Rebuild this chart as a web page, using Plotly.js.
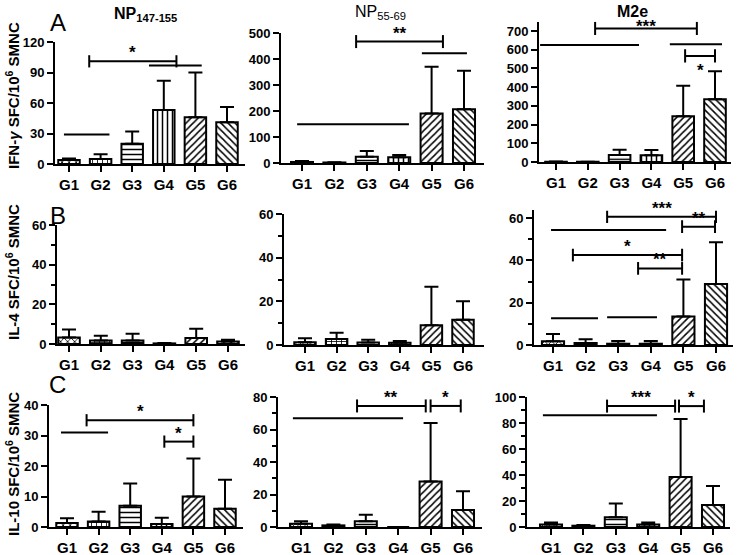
<!DOCTYPE html>
<html><head><meta charset="utf-8">
<script src="https://cdn.plot.ly/plotly-3.0.1.min.js"></script>
<style>html,body{margin:0;padding:0;background:#fff}#chart{width:738px;height:555px}</style>
</head><body><div id="chart"></div>
<script>
// ---------- data ----------
const groups = ['G1', 'G2', 'G3', 'G4', 'G5', 'G6'];
const groupPos = [0, 1, 2, 3, 4, 5];

// IFN-γ SFC / 10^6 SMNC (mean, SD)
const ifnNP147 = [4, 5, 20, 53, 46, 41];
const ifnNP147Sd = [1.5, 4.5, 12, 29, 44, 15];
const ifnNP55 = [4, 2, 24, 22, 190, 207];
const ifnNP55Sd = [4, 1, 22, 9, 180, 148];
const ifnM2e = [2, 1, 38, 36, 245, 335];
const ifnM2eSd = [1, 0.5, 28, 28, 163, 150];

// IL-4
const il4NP147 = [3.3, 1.8, 1.8, 0.3, 3, 1.2];
const il4NP147Sd = [4, 2.4, 3.4, 0.2, 4.7, 0.9];
const il4NP55 = [1.3, 2.8, 1.1, 1, 9, 11.6];
const il4NP55Sd = [1.8, 2.8, 1.3, 0.8, 17.7, 8.4];
const il4M2e = [1.8, 1, 0.6, 0.6, 13.5, 28.8];
const il4M2eSd = [3.4, 1.7, 1.3, 1.3, 17.5, 19.7];

// IL-10
const il10NP147 = [1.3, 1.8, 7, 1, 10, 6];
const il10NP147Sd = [1.6, 3.2, 7.3, 2, 12.5, 9.5];
const il10NP55 = [2, 1, 3.5, 0, 28, 10.5];
const il10NP55Sd = [1.5, 0.5, 4, 0, 36, 11.5];
const il10M2e = [2, 1, 7.5, 2, 38.5, 17];
const il10M2eSd = [1.5, 0.5, 10.5, 1.5, 44.5, 14.5];

// significance marks: [from, to, level, label, label side]; empty label = plain line
const sigIfnNP147 = [[-0.16, 1.28, 29, ''], [2.53, 4.2, 97, ''], [0.64, 3.4, 101, '*', 'above']];
const sigIfnNP55 = [[-0.15, 3.3, 149, ''], [1.67, 4.35, 467, '**', 'above'], [3.7, 5.09, 422, '']];
const sigIfnM2e = [[-0.5, 2.61, 625, ''], [1.23, 4.43, 714, '***', 'close'], [3.58, 5.22, 629, ''], [4.06, 5.0, 567, '*', 'below']];
const sigIl4NP147 = [];
const sigIl4NP55 = [];
const sigIl4M2e = [[-0.06, 3.47, 54.3, ''], [1.66, 5.0, 60.6, '***', 'above'], [3.96, 4.97, 55.9, '**', 'above'],
                   [0.61, 3.96, 42.5, '*', 'above'], [2.61, 3.96, 36.2, '**', 'above'], [-0.06, 1.38, 12.6, ''], [1.66, 3.19, 13.1, '']];
const sigIl10NP147 = [[-0.19, 1.3, 31, ''], [0.62, 4.0, 35, '*', 'above'], [3.08, 4.0, 28, '*', 'above']];
const sigIl10NP55 = [[-0.25, 3.15, 67, ''], [1.73, 3.85, 74.5, '**', 'above'], [4.0, 4.93, 74.5, '*', 'above']];
const sigIl10M2e = [[-0.25, 3.27, 86, ''], [1.73, 3.83, 93, '***', 'above'], [3.95, 4.72, 93, '*', 'above']];

const axisMax = [120, 500, 700, 60, 60, 60, 40, 80, 100];
const axisStep = [30, 100, 100, 20, 20, 20, 10, 20, 20];

// ---------- layout geometry (pixels) ----------
const FONT = 'Arial, "Liberation Sans", Helvetica, sans-serif';
const W = 738, H = 555;
const geo = [
  {L: 55, R: 245, g1: 69, g6: 227, bot: 164, top: 42, minor: null},
  {L: 281, R: 484, g1: 302, g6: 464, bot: 163, top: 33, minor: null},
  {L: 539, R: 731, g1: 556, g6: 715, bot: 162, top: 31, minor: null},
  {L: 57, R: 245, g1: 69, g6: 228, bot: 344, top: 225, minor: 10},
  {L: 284, R: 484, g1: 305, g6: 463, bot: 345, top: 214, minor: 10},
  {L: 534, R: 733, g1: 553, g6: 716, bot: 345, top: 218, minor: 10},
  {L: 49, R: 243, g1: 67, g6: 225, bot: 527, top: 405, minor: null},
  {L: 278, R: 482, g1: 301, g6: 463, bot: 527, top: 397, minor: 10},
  {L: 527, R: 730, g1: 551, g6: 713, bot: 527, top: 397, minor: 10}
];
const series = [
  [ifnNP147, ifnNP147Sd, sigIfnNP147], [ifnNP55, ifnNP55Sd, sigIfnNP55], [ifnM2e, ifnM2eSd, sigIfnM2e],
  [il4NP147, il4NP147Sd, sigIl4NP147], [il4NP55, il4NP55Sd, sigIl4NP55], [il4M2e, il4M2eSd, sigIl4M2e],
  [il10NP147, il10NP147Sd, sigIl10NP147], [il10NP55, il10NP55Sd, sigIl10NP55], [il10M2e, il10M2eSd, sigIl10M2e]
];
const patterns = ['x', '+', '-', '|', '/', '\\'];

const data = [], shapes = [], annotations = [];
const layout = {
  width: W, height: H, margin: {l: 0, r: 0, t: 0, b: 0},
  paper_bgcolor: 'white', plot_bgcolor: 'rgba(0,0,0,0)', showlegend: false,
  font: {family: FONT, color: 'black'}, shapes, annotations
};

series.forEach((s, i) => {
  const [vals, sd, sig] = s;
  const g = geo[i];
  const n = i + 1;
  const xa = 'x' + (n > 1 ? n : ''), ya = 'y' + (n > 1 ? n : '');
  const xk = 'xaxis' + (n > 1 ? n : ''), yk = 'yaxis' + (n > 1 ? n : '');
  const ymax = axisMax[i], step = axisStep[i];
  const pitch = (g.g6 - g.g1) / 5;
  const h = 0.05 * ymax;
  let rtop = ymax;
  sig.forEach(m => { rtop = Math.max(rtop, m[2] + (m[3] ? h : 0)); });
  const scale = (g.bot - g.top) / ymax;
  const domTopPx = g.bot - rtop * scale;
  const tv = [];
  for (let v = 0; v <= ymax + 1e-9; v += step) tv.push(v);

  layout[xk] = {
    domain: [g.L / W, g.R / W], range: [(g.L - g.g1) / pitch, 5 + (g.R - g.g6) / pitch],
    anchor: ya, tickmode: 'array', tickvals: groupPos, ticktext: groups,
    ticks: 'outside', ticklen: 6, tickwidth: 2, tickcolor: 'black',
    showline: true, linewidth: 2, linecolor: 'black', showgrid: false, zeroline: false,
    tickfont: {size: 15, family: FONT, weight: 'bold', color: 'black'}, fixedrange: true
  };
  const yax = {
    domain: [1 - g.bot / H, 1 - domTopPx / H], range: [0, rtop], anchor: xa,
    tickmode: 'array', tickvals: tv, ticks: 'outside', ticklen: 6, tickwidth: 2, tickcolor: 'black',
    showline: true, linewidth: 2, linecolor: 'black', showgrid: false, zeroline: false,
    tickfont: {size: 13, family: FONT, weight: 'bold', color: 'black'}, fixedrange: true
  };
  if (g.minor) yax.minor = {dtick: g.minor, tick0: 0, ticks: 'outside', ticklen: 4, tickwidth: 2, tickcolor: 'black', showgrid: false};
  layout[yk] = yax;

  data.push({
    type: 'bar', x: groupPos, y: vals, xaxis: xa, yaxis: ya, width: 0.68, cliponaxis: false,
    marker: {color: 'white', line: {color: 'black', width: 2},
      pattern: {shape: patterns, size: 5, solidity: 0.3, fgcolor: 'black', bgcolor: 'white'}},
    error_y: {type: 'data', symmetric: false, array: sd, arrayminus: sd.map(() => 0),
      color: 'black', thickness: 2, width: 7},
    hoverinfo: 'skip'
  });

  sig.forEach(m => {
    const [x0, x1, y, label, side] = m;
    const ln = {color: 'black', width: 2};
    shapes.push({type: 'line', xref: xa, yref: ya, x0, x1, y0: y, y1: y, line: ln});
    if (label) {
      shapes.push({type: 'line', xref: xa, yref: ya, x0: x0, x1: x0, y0: y - h, y1: y + h, line: ln});
      shapes.push({type: 'line', xref: xa, yref: ya, x0: x1, x1: x1, y0: y - h, y1: y + h, line: ln});
      annotations.push({xref: xa, yref: ya, x: (x0 + x1) / 2, y: y, text: label, showarrow: false,
        yanchor: side === 'below' ? 'top' : 'bottom', yshift: side === 'close' ? -10 : -3,
        font: {size: 17, family: FONT, weight: 'bold', color: 'black'}});
    }
  });
});

// titles and panel letters
const yTitles = [
  ['IFN-<i>γ</i> SFC/10<sup>6</sup> SMNC', 96],
  ['IL-4 SFC/10<sup>6</sup> SMNC', 272],
  ['IL-10 SFC/10<sup>6</sup> SMNC', 464]
];
yTitles.forEach(t => annotations.push({xref: 'paper', yref: 'paper', x: 12 / W, y: 1 - t[1] / H,
  text: t[0], textangle: -90, showarrow: false, xanchor: 'center', yanchor: 'middle',
  font: {size: 15, family: FONT, weight: 'bold', color: 'black'}}));

const colTitles = [['NP<sub>147-155</sub>', 145, 15, 'bold'], ['NP<sub>55-69</sub>', 380, 12, 'normal'], ['M2e', 632, 11, 'bold']];
colTitles.forEach(t => annotations.push({xref: 'paper', yref: 'paper', x: t[1] / W, y: 1 - t[2] / H,
  text: t[0], showarrow: false, xanchor: 'center', yanchor: 'middle',
  font: {size: 16, family: FONT, weight: t[3], color: 'black'}}));

const letters = [['A', 58, 22], ['B', 58, 215], ['C', 57, 384]];
letters.forEach(t => annotations.push({xref: 'paper', yref: 'paper', x: t[1] / W, y: 1 - t[2] / H,
  text: t[0], showarrow: false, xanchor: 'center', yanchor: 'middle',
  font: {size: 24, family: FONT, color: 'black'}}));

Plotly.newPlot('chart', data, layout, {staticPlot: true, displayModeBar: false});
</script>
</body></html>
